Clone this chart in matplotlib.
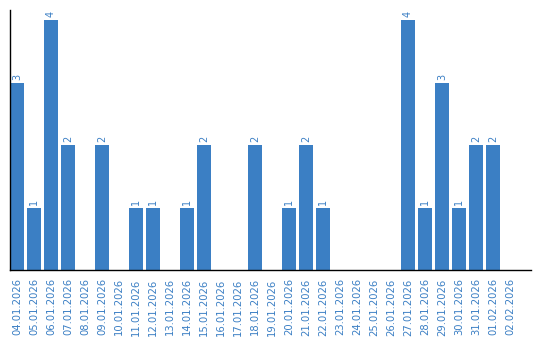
import matplotlib
matplotlib.use('Agg')
import matplotlib.pyplot as plt

# data
dates = ['04.01.2026', '05.01.2026', '06.01.2026', '07.01.2026', '08.01.2026',
         '09.01.2026', '10.01.2026', '11.01.2026', '12.01.2026', '13.01.2026',
         '14.01.2026', '15.01.2026', '16.01.2026', '17.01.2026', '18.01.2026',
         '19.01.2026', '20.01.2026', '21.01.2026', '22.01.2026', '23.01.2026',
         '24.01.2026', '25.01.2026', '26.01.2026', '27.01.2026', '28.01.2026',
         '29.01.2026', '30.01.2026', '31.01.2026', '01.02.2026', '02.02.2026']
counts = [3, 1, 4, 2, 0, 2, 0, 1, 1, 0, 1, 2, 0, 0, 2, 0, 1, 2, 1, 0,
          0, 0, 0, 4, 1, 3, 1, 2, 2, 0]

blue = '#3b7fc4'

fig = plt.figure(figsize=(5.4, 3.4), dpi=100)
ax = fig.add_axes([10 / 540, 70 / 340, 521 / 540, 260 / 340])

x = list(range(len(dates)))
ax.bar(x, counts, width=0.82, color=blue)

for i, v in enumerate(counts):
    if v > 0:
        ax.annotate(str(v), (i, v), xytext=(0, 2), textcoords='offset points',
                    ha='center', va='bottom', rotation=90, fontsize=7, color=blue)

ax.set_xlim(-0.41, 30.24)
ax.set_ylim(0, 4.16)
ax.set_xticks(x)
ax.set_xticklabels(dates, rotation=90, fontsize=7.2, color=blue)
ax.tick_params(axis='x', length=0, pad=6)
ax.set_yticks([])

for s in ['top', 'right']:
    ax.spines[s].set_visible(False)
ax.spines['left'].set_linewidth(1)
ax.spines['bottom'].set_linewidth(1)

fig.savefig('out.png', dpi=100)
